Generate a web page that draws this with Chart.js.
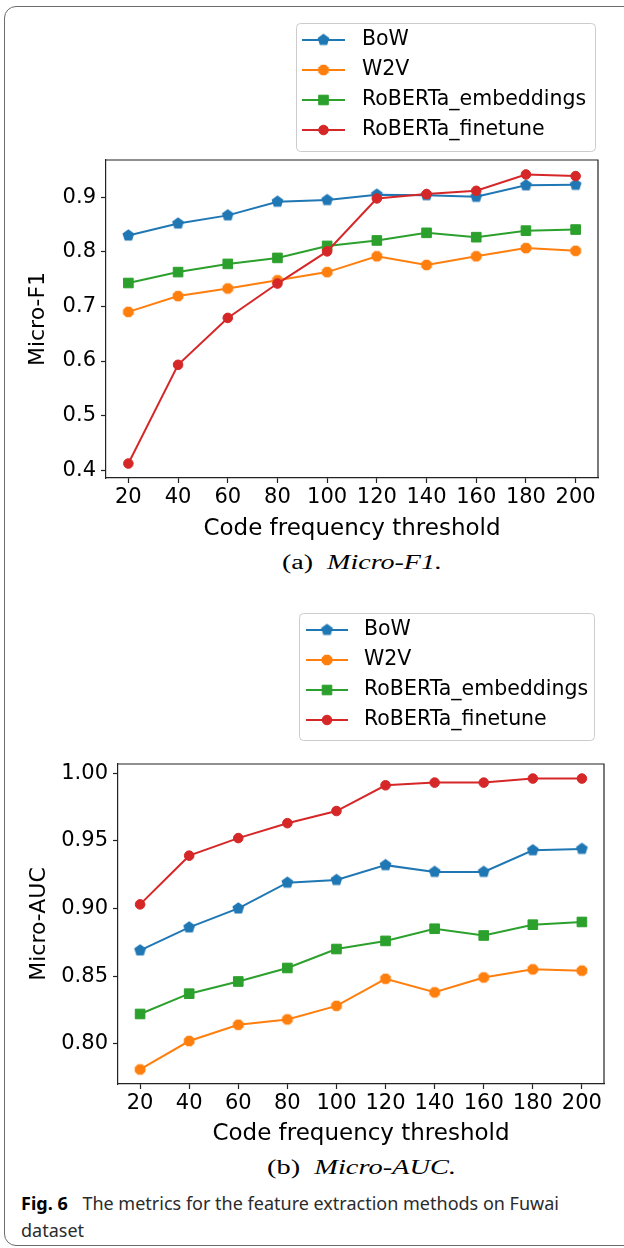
<!DOCTYPE html>
<html>
<head>
<meta charset="utf-8">
<title>Fig. 6</title>
<script src="https://cdn.jsdelivr.net/npm/chart.js@4.4.1/dist/chart.umd.min.js"></script>
<style>
  html, body { margin: 0; padding: 0; background: #fff; }
  body { position: relative; width: 624px; height: 1248px; overflow: hidden; }
  #frame { position: absolute; left: 4px; top: 6px; width: 700px; height: 1240px; border: 1px solid #6b6b6b; border-radius: 12px; box-sizing: border-box; }
  canvas { position: absolute; left: 0; }
  #f1 { top: 0; }
  #auc { top: 590px; }
  .sub { position: absolute; white-space: nowrap; font-family: "Liberation Serif", serif; font-size: 20px; line-height: 24px; color: #000; transform-origin: 0 50%; }
  #capA { top: 550px; }
  #capB { top: 1155px; }
  #fig { position: absolute; left: 21px; top: 1190px; font-family: "Noto Sans", sans-serif; font-size: 18px; line-height: 27px; color: #2b2b2b; white-space: nowrap; transform-origin: 0 0; }
  #fig b { color: #000; margin-right: 10px; }
</style>
</head>
<body>
<div id="frame"></div>
<canvas id="f1" width="624" height="548"></canvas>
<div class="sub" id="capA">(a)&nbsp;&nbsp;<i>Micro-F1.</i></div>
<canvas id="auc" width="624" height="560"></canvas>
<div class="sub" id="capB">(b)&nbsp;&nbsp;<i>Micro-AUC.</i></div>
<div id="fig"><span id="figLine"><b>Fig. 6</b> The metrics for the feature extraction methods on Fuwai</span><br>dataset</div>

<script>
// данные
const thresholds = [20, 40, 60, 80, 100, 120, 140, 160, 180, 200];
const methods = ['BoW', 'W2V', 'RoBERTa_embeddings', 'RoBERTa_finetune'];
const colors = ['#1f77b4', '#ff7f0e', '#2ca02c', '#d62728'];

// (a) Micro-F1
const f1BoW  = [0.830, 0.852, 0.867, 0.892, 0.895, 0.905, 0.904, 0.901, 0.922, 0.923];
const f1W2V  = [0.690, 0.719, 0.733, 0.748, 0.763, 0.792, 0.776, 0.792, 0.807, 0.802];
const f1Emb  = [0.743, 0.763, 0.778, 0.789, 0.811, 0.821, 0.835, 0.827, 0.839, 0.841];
const f1Fine = [0.412, 0.593, 0.679, 0.742, 0.801, 0.898, 0.906, 0.912, 0.942, 0.939];

// (b) Micro-AUC
const aucBoW  = [0.869, 0.886, 0.900, 0.919, 0.921, 0.932, 0.927, 0.927, 0.943, 0.944];
const aucW2V  = [0.781, 0.802, 0.814, 0.818, 0.828, 0.848, 0.838, 0.849, 0.855, 0.854];
const aucEmb  = [0.822, 0.837, 0.846, 0.856, 0.870, 0.876, 0.885, 0.880, 0.888, 0.890];
const aucFine = [0.903, 0.939, 0.952, 0.963, 0.972, 0.991, 0.993, 0.993, 0.996, 0.996];

const f1Ticks = [0.4, 0.5, 0.6, 0.7, 0.8, 0.9];
const aucTicks = [0.80, 0.85, 0.90, 0.95, 1.00];

const FONT = 'DejaVu Sans';

// маркеры matplotlib: 'p' и '8' рисуем сами
function polygonMarker(sides, r, color, turn) {
  const c = document.createElement('canvas');
  const s = Math.ceil(r * 2 + 2);
  c.width = c.height = s;
  const g = c.getContext('2d');
  g.fillStyle = color;
  g.beginPath();
  for (let i = 0; i < sides; i++) {
    const a = turn + i * 2 * Math.PI / sides;
    const x = s / 2 + r * Math.sin(a), y = s / 2 - r * Math.cos(a);
    if (i) g.lineTo(x, y); else g.moveTo(x, y);
  }
  g.closePath();
  g.fill();
  return c;
}

const markerStyles = [polygonMarker(5, 6.2, colors[0], 0), polygonMarker(8, 5.8, colors[1], Math.PI / 8), 'rect', 'circle'];
const markerRadius = [6, 6, 6.8, 4.8];
const markerBorder = [0, 0, 1, 1];

function buildDatasets(series) {
  return series.map((vals, i) => ({
    label: methods[i],
    data: vals.map((v, j) => ({ x: thresholds[j], y: v })),
    borderColor: colors[i],
    backgroundColor: colors[i],
    borderWidth: 2,
    pointStyle: markerStyles[i],
    pointRadius: markerRadius[i],
    pointBorderWidth: markerBorder[i],
    order: series.length - i
  }));
}

// как у matplotlib: 5% поля сверху и снизу
function paddedRange(series) {
  const all = series.flat();
  const lo = Math.min(...all), hi = Math.max(...all);
  const m = (hi - lo) * 0.05;
  return [lo - m, hi + m];
}

// рамка графика и легенда в отдельной коробке
const legendPlugin = {
  id: 'figLegend',
  afterDraw(chart, args, opts) {
    const ctx = chart.ctx;
    const a = chart.chartArea;
    ctx.save();
    ctx.strokeStyle = '#222';
    ctx.lineWidth = 1.2;
    ctx.beginPath();
    ctx.moveTo(a.left, a.top);
    ctx.lineTo(a.right, a.top);
    ctx.lineTo(a.right, a.bottom);
    ctx.stroke();

    ctx.beginPath();
    ctx.roundRect(opts.left + 0.5, opts.top + 0.5, opts.width, opts.height, 4);
    ctx.fillStyle = 'rgba(255,255,255,0.8)';
    ctx.fill();
    ctx.strokeStyle = '#cccccc';
    ctx.lineWidth = 1;
    ctx.stroke();

    chart.data.datasets.forEach((ds, i) => {
      const y = opts.firstRow + i * opts.rowGap;
      ctx.strokeStyle = ds.borderColor;
      ctx.lineWidth = ds.borderWidth;
      ctx.beginPath();
      ctx.moveTo(opts.lineStart, y);
      ctx.lineTo(opts.lineEnd, y);
      ctx.stroke();
      ctx.fillStyle = ds.backgroundColor;
      ctx.lineWidth = ds.pointBorderWidth;
      Chart.helpers.drawPoint(ctx, { pointStyle: ds.pointStyle, radius: ds.pointRadius, borderWidth: ds.pointBorderWidth, rotation: 0 }, (opts.lineStart + opts.lineEnd) / 2, y);
      ctx.fillStyle = '#000';
      ctx.font = '20.5px "' + FONT + '"';
      ctx.textBaseline = 'middle';
      ctx.textAlign = 'left';
      ctx.fillText(ds.label, opts.textX, y);
    });
    ctx.restore();
  }
};

function makeChart(id, series, yTicks, digits, yTitle, cfg) {
  const [yMin, yMax] = paddedRange(series);
  return new Chart(document.getElementById(id), {
    type: 'line',
    data: { datasets: buildDatasets(series) },
    options: {
      responsive: false,
      animation: false,
      devicePixelRatio: 1,
      layout: { padding: { top: cfg.padTop, right: cfg.padRight, left: 0, bottom: 0 } },
      plugins: {
        legend: { display: false },
        tooltip: { enabled: false },
        figLegend: cfg.legend
      },
      scales: {
        x: {
          type: 'linear',
          min: 11,
          max: 209,
          afterBuildTicks: ax => { ax.ticks = thresholds.map(v => ({ value: v })); },
          afterFit: ax => { ax.height = cfg.xHeight; },
          ticks: { font: { family: FONT, size: 21 }, color: '#000', padding: 2, maxRotation: 0, autoSkip: false },
          grid: { drawOnChartArea: false, drawTicks: true, tickLength: 5, color: '#222', tickWidth: 1.2 },
          border: { display: true, color: '#222', width: 1.2 },
          title: { display: true, text: 'Code frequency threshold', color: '#000', font: { family: FONT, size: 23 }, padding: { top: 0, bottom: cfg.xTitlePad } }
        },
        y: {
          min: yMin,
          max: yMax,
          afterBuildTicks: ax => { ax.ticks = yTicks.map(v => ({ value: v })); },
          afterFit: ax => { ax.width = cfg.yWidth; },
          ticks: { font: { family: FONT, size: 21 }, color: '#000', padding: 5, callback: v => v.toFixed(digits) },
          grid: { drawOnChartArea: false, drawTicks: true, tickLength: 5, color: '#222', tickWidth: 1.2 },
          border: { display: true, color: '#222', width: 1.2 },
          title: { display: true, text: yTitle, color: '#000', font: { family: FONT, size: 22 }, padding: { top: cfg.yTitlePad, bottom: 0 } }
        }
      }
    },
    plugins: [legendPlugin]
  });
}

makeChart('f1', [f1BoW, f1W2V, f1Emb, f1Fine], f1Ticks, 1, 'Micro-F1', {
  padTop: 160, padRight: 26, yWidth: 106, xHeight: 70, xTitlePad: 5.2, yTitlePad: 24.8,
  legend: { left: 296, top: 23, width: 299, height: 128, firstRow: 40, rowGap: 30, lineStart: 302, lineEnd: 345, textX: 362 }
});

makeChart('auc', [aucBoW, aucW2V, aucEmb, aucFine], aucTicks, 2, 'Micro-AUC', {
  padTop: 174, padRight: 20, yWidth: 118, xHeight: 66, xTitlePad: 2.2, yTitlePad: 25.8,
  legend: { left: 299, top: 23, width: 295, height: 127, firstRow: 40, rowGap: 30, lineStart: 306, lineEnd: 348, textX: 364 }
});

// подписи: подгоняем ширину под оригинал
function fitCaption(id, center, width) {
  const el = document.getElementById(id);
  const w = el.getBoundingClientRect().width;
  el.style.left = (center - width / 2) + 'px';
  el.style.transform = 'scaleX(' + (width / w) + ')';
}
fitCaption('capA', 362, 160);
fitCaption('capB', 361, 189);

const figLine = document.getElementById('figLine');
document.getElementById('fig').style.transform = 'scaleX(' + (538 / figLine.getBoundingClientRect().width) + ')';
</script>
</body>
</html>
